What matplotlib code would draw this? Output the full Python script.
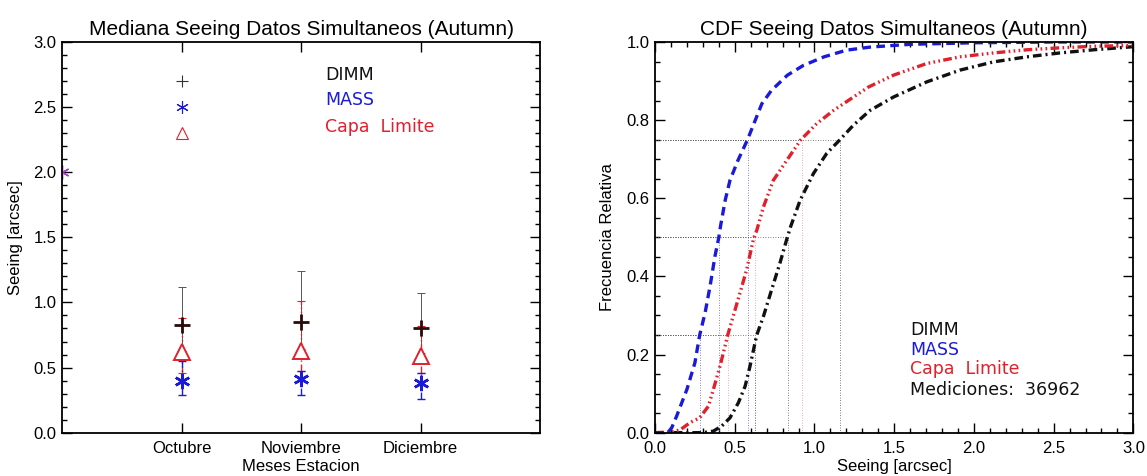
import matplotlib
matplotlib.use("Agg")
import matplotlib.pyplot as plt
from matplotlib.ticker import MultipleLocator

plt.rcParams["font.family"] = ["Liberation Sans", "DejaVu Sans"]

# left panel: monthly medians with quartile bars
months = ["Octubre", "Noviembre", "Diciembre"]
dimm_med = [0.83, 0.85, 0.80]
dimm_lo = [0.63, 0.64, 0.61]
dimm_hi = [1.12, 1.24, 1.07]
mass_med = [0.40, 0.41, 0.38]
mass_lo = [0.29, 0.29, 0.26]
mass_hi = [0.55, 0.47, 0.46]
capa_med = [0.62, 0.63, 0.59]
capa_lo = [0.46, 0.47, 0.46]
capa_hi = [0.88, 1.01, 0.82]

# right panel: cumulative distributions
mass_x = [0.0, 0.08, 0.105, 0.136, 0.20, 0.25, 0.28, 0.314, 0.345, 0.376, 0.40, 0.41,
          0.44, 0.47, 0.52, 0.58, 0.62, 0.67, 0.73, 0.83, 0.93, 1.06, 1.20, 1.35, 1.6,
          2.0, 2.5, 3.0]
mass_y = [0.0, 0.0, 0.013, 0.043, 0.111, 0.179, 0.25, 0.307, 0.375, 0.452, 0.50, 0.527,
          0.595, 0.646, 0.697, 0.75, 0.791, 0.842, 0.876, 0.915, 0.94, 0.962, 0.979,
          0.987, 0.994, 0.998, 1.0, 1.0]
capa_x = [0.0, 0.10, 0.157, 0.22, 0.28, 0.335, 0.366, 0.408, 0.439, 0.456, 0.49, 0.533,
          0.575, 0.617, 0.638, 0.68, 0.742, 0.826, 0.915, 1.014, 1.12, 1.244, 1.34, 1.495,
          1.705, 1.913, 2.122, 2.332, 2.54, 2.75, 3.0]
capa_y = [0.0, 0.002, 0.007, 0.026, 0.038, 0.068, 0.111, 0.171, 0.222, 0.25, 0.298, 0.358,
          0.418, 0.495, 0.518, 0.578, 0.646, 0.697, 0.75, 0.791, 0.825, 0.859, 0.885, 0.915,
          0.945, 0.962, 0.972, 0.980, 0.985, 0.989, 0.991]
dimm_x = [0.0, 0.30, 0.366, 0.418, 0.47, 0.523, 0.565, 0.596, 0.627, 0.638, 0.68, 0.732,
          0.784, 0.826, 0.85, 0.91, 0.993, 1.077, 1.16, 1.244, 1.349, 1.495, 1.705, 1.913,
          2.122, 2.332, 2.54, 2.75, 3.0]
dimm_y = [0.0, 0.0, 0.004, 0.017, 0.038, 0.077, 0.119, 0.171, 0.23, 0.25, 0.298, 0.367,
          0.435, 0.495, 0.527, 0.595, 0.663, 0.715, 0.75, 0.787, 0.825, 0.859, 0.898, 0.928,
          0.949, 0.962, 0.972, 0.980, 0.988]
levels = [0.25, 0.5, 0.75]
dimm_q = [0.63, 0.835, 1.16]
mass_q = [0.28, 0.40, 0.58]
capa_q = [0.46, 0.63, 0.92]
n_med = 36962

BLACK = "#111111"
BLUE = "#1a1ad8"
RED = "#e0202c"
PURPLE = "#a044c8"
ann_font = ["DejaVu Sans"]

fig = plt.figure(figsize=(11.47, 4.76), dpi=100)
ax1 = fig.add_axes([0.0541, 0.091, 0.4167, 0.8208])
ax2 = fig.add_axes([0.5711, 0.091, 0.4170, 0.8208])


def style_axes(ax):
    for s in ax.spines.values():
        s.set_linewidth(1.3)
    ax.tick_params(which="both", direction="in", top=True, right=True,
                   labelsize=12, width=1.0)
    ax.tick_params(which="major", length=7, pad=4)
    ax.tick_params(which="minor", length=3.5)


# ---- left
xpos = [1, 2, 3]
sty_capa = (0, (5, 2, 1, 2, 1, 2, 1, 2))
sty_mass = (0, (5, 2, 1, 2))

eb = ax1.errorbar(xpos, dimm_med,
                  yerr=[[m - l for m, l in zip(dimm_med, dimm_lo)],
                        [h - m for m, h in zip(dimm_med, dimm_hi)]],
                  fmt="none", ecolor="#555555", elinewidth=0.7, capsize=3, capthick=0.7)
eb = ax1.errorbar(xpos, capa_med,
                  yerr=[[m - l for m, l in zip(capa_med, capa_lo)],
                        [h - m for m, h in zip(capa_med, capa_hi)]],
                  fmt="none", ecolor=RED, elinewidth=1.0, capsize=3, capthick=0.8)
eb[2][0].set_linestyle(sty_capa)
eb = ax1.errorbar(xpos, mass_med,
                  yerr=[[m - l for m, l in zip(mass_med, mass_lo)],
                        [h - m for m, h in zip(mass_med, mass_hi)]],
                  fmt="none", ecolor=BLUE, elinewidth=1.0, capsize=3, capthick=1.0)
eb[2][0].set_linestyle(sty_mass)

ax1.plot(xpos, capa_med, ls="none", marker="^", ms=11, mfc="white", mec=RED, mew=1.4)
ax1.plot(xpos, dimm_med, ls="none", marker="+", ms=11, mec="#2a0a0a", mew=2.0)
ax1.plot(xpos, mass_med, ls="none", marker=(6, 2, 0), ms=11, mec=BLUE, mew=1.8)

# key symbols
ax1.plot([1], [2.7], ls="none", marker="+", ms=9, mec="#333333", mew=0.8)
ax1.plot([1], [2.5], ls="none", marker=(6, 2, 0), ms=9, mec=BLUE, mew=0.8)
ax1.plot([1], [2.3], ls="none", marker="^", ms=9, mfc="none", mec=RED, mew=0.8)
ax1.plot([0], [2.0], ls="none", marker=(6, 2, 0), ms=10, mec=PURPLE, mew=1.0)

ax1.text(2.2, 2.745, "DIMM", color=BLACK, fontsize=12.5, va="center", family=ann_font)
ax1.text(2.2, 2.555, "MASS", color=BLUE, fontsize=12.5, va="center", family=ann_font)
ax1.text(2.2, 2.345, "Capa  Limite", color=RED, fontsize=12.5, va="center", family=ann_font)

ax1.set_xlim(0, 4)
ax1.set_ylim(0, 3)
ax1.set_xticks(xpos)
ax1.set_xticklabels(months)
ax1.yaxis.set_major_locator(MultipleLocator(0.5))
ax1.yaxis.set_minor_locator(MultipleLocator(0.1))
ax1.yaxis.set_major_formatter(plt.FormatStrFormatter("%.1f"))
style_axes(ax1)
ax1.tick_params(axis="x", pad=6)
ax1.set_title("Mediana Seeing Datos Simultaneos (Autumn)", fontsize=15, pad=5)
ax1.set_xlabel("Meses Estacion", fontsize=12)
ax1.set_ylabel("Seeing [arcsec]", fontsize=12)
ax1.xaxis.set_label_coords(0.5, -0.068)
ax1.yaxis.set_label_coords(-0.082, 0.5)

# ---- right
for q, col in ((mass_q, "#5a5ab0"), (capa_q, "#e09090"), (dimm_q, "#555555")):
    for lev, xv in zip(levels, q):
        ax2.plot([0, xv], [lev, lev], ls=(0, (1, 2)), lw=0.6, color="#555555")
        ax2.plot([xv, xv], [0, lev], ls=(0, (1, 2)), lw=0.6, color=col)

ax2.plot(dimm_x, dimm_y, color=BLACK, lw=2.4, ls=(0, (2.6, 1.2, 0.6, 1.2)))
ax2.plot(capa_x, capa_y, color=RED, lw=2.4, ls=(0, (2.6, 1.0, 0.5, 1.0, 0.5, 1.0, 0.5, 1.0)))
ax2.plot(mass_x, mass_y, color=BLUE, lw=2.4, ls=(0, (2.6, 1.6)))

ax2.text(1.6, 0.263, "DIMM", color=BLACK, fontsize=12.5, va="center", family=ann_font)
ax2.text(1.6, 0.2115, "MASS", color=BLUE, fontsize=12.5, va="center", family=ann_font)
ax2.text(1.6, 0.162, "Capa  Limite", color=RED, fontsize=12.5, va="center", family=ann_font)
ax2.text(1.6, 0.109, "Mediciones:  %d" % n_med, color=BLACK, fontsize=12.5, va="center",
         family=ann_font)

ax2.set_xlim(0, 3)
ax2.set_ylim(0, 1)
ax2.xaxis.set_major_locator(MultipleLocator(0.5))
ax2.xaxis.set_minor_locator(MultipleLocator(0.1))
ax2.yaxis.set_major_locator(MultipleLocator(0.2))
ax2.yaxis.set_minor_locator(MultipleLocator(0.05))
ax2.xaxis.set_major_formatter(plt.FormatStrFormatter("%.1f"))
ax2.yaxis.set_major_formatter(plt.FormatStrFormatter("%.1f"))
style_axes(ax2)
ax2.tick_params(axis="x", pad=6)
ax2.set_title("CDF Seeing Datos Simultaneos (Autumn)", fontsize=15, pad=5)
ax2.set_xlabel("Seeing [arcsec]", fontsize=12)
ax2.set_ylabel("Frecuencia Relativa", fontsize=12)
ax2.xaxis.set_label_coords(0.5, -0.068)
ax2.yaxis.set_label_coords(-0.084, 0.5)

fig.savefig("out.png", dpi=100)
